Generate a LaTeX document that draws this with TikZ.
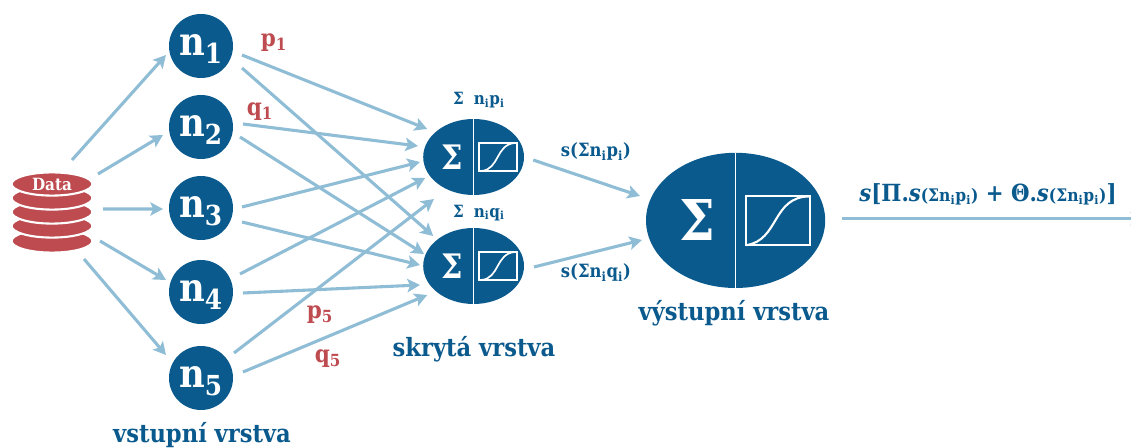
\documentclass[tikz,border=0pt]{standalone}
\usepackage{fontspec}
\setmainfont{DejaVu Serif Condensed}
\usepackage{xcolor}
\usetikzlibrary{calc,shapes.geometric,arrows.meta}
\definecolor{netblue}{HTML}{0B5A8E}
\definecolor{netred}{HTML}{BE4B50}
\definecolor{flowblue}{HTML}{8FBDD6}
\newcommand{\lowi}{\textsubscript{i}}
\tikzset{
  neuron/.style={circle, fill=netblue, text=white, minimum size=1.6cm, inner sep=0pt, text height=13pt, text depth=0pt, font=\fontsize{28}{28}\selectfont\bfseries},
  sumnode/.style={ellipse, fill=netblue, minimum width=2.52cm, minimum height=1.9cm, inner sep=0pt},
  outnode/.style={ellipse, fill=netblue, minimum width=4.48cm, minimum height=3.38cm, inner sep=0pt},
  disk/.style={ellipse, fill=netred, draw=white, line width=1.5pt, minimum width=2.02cm, minimum height=0.58cm, inner sep=0pt},
  flow/.style={->, draw=flowblue, line width=2.2pt},
  layername/.style={text=netblue, font=\fontsize{17.9}{17.9}\selectfont\bfseries},
  weight/.style={text=netred, font=\fontsize{17}{17}\selectfont\bfseries},
  formula/.style={text=netblue, font=\fontsize{13}{13}\selectfont\bfseries},
}
\begin{document}
\begin{tikzpicture}[>={Stealth[length=9pt,width=9.5pt,inset=2pt]}]
    \useasboundingbox (0,0) rectangle (28.275,11.2);
    \clip (0,0) rectangle (28.275,11.2);

    % -- Data stack --
    \foreach \y in {5.175,5.55,5.9,6.25} {
        \node[disk] at (1.3,\y) {};
    }
    \node[disk, font=\fontsize{12}{12}\selectfont\bfseries, text=white] (data) at (1.3,6.6) {Data};

    % -- Input layer --
    \node[neuron] (n1) at (5.025,10.05) {n\textsubscript{1}};
    \node[neuron] (n2) at (5.025,8.025) {n\textsubscript{2}};
    \node[neuron] (n3) at (5.025,6.0) {n\textsubscript{3}};
    \node[neuron] (n4) at (5.025,3.9) {n\textsubscript{4}};
    \node[neuron] (n5) at (5.025,1.75) {n\textsubscript{5}};

    % -- Hidden layer --
    \node[sumnode] (sum1) at (11.84,7.275) {};
    \node[sumnode] (sum2) at (11.84,4.55) {};
    \foreach \s in {sum1,sum2} {
        \draw[white, line width=0.8pt] (\s.north) -- (\s.south);
        \node[text=white, font=\fontsize{24}{24}\selectfont\bfseries] at ($(\s)+(-0.54,0)$) {Σ};
        \draw[white, line width=1.2pt] ($(\s)+(0.14,-0.35)$) rectangle ($(\s)+(1.08,0.35)$);
        \draw[white, line width=1.2pt] ($(\s)+(0.2,-0.35)$) .. controls ($(\s)+(0.65,-0.3)$) and ($(\s)+(0.55,0.3)$) .. ($(\s)+(1.02,0.35)$);
    }

    % -- Output layer --
    \node[outnode] (out) at (18.39,5.69) {};
    \draw[white, line width=1pt] (out.north) -- (out.south);
    \node[text=white, font=\fontsize{40}{40}\selectfont\bfseries] at ($(out)+(-0.96,0)$) {Σ};
    \draw[white, line width=1.5pt] ($(out)+(0.26,-0.62)$) rectangle ($(out)+(1.86,0.6)$);
    \draw[white, line width=1.5pt] ($(out)+(0.26,-0.62)$) .. controls ($(out)+(1.1,-0.5)$) and ($(out)+(0.9,0.6)$) .. ($(out)+(1.86,0.6)$);

    % -- Arrows --
    \foreach \a/\ax/\ay/\b/\bx/\by in {
        data/0.5/0.6/n1/-0.875/-0.225,
        data/1.15/0.25/n2/-0.95/-0.2,
        data/1.275/-0.625/n3/-0.95/-0.025,
        data/1.2/-1.425/n4/-0.875/0.3,
        data/0.8/-1.875/n5/-0.875/0.575,
        n1/1.025/-0.225/sum1/-1.16/0.7,
        n1/1.025/-0.55/sum2/-1.01/0.75,
        n2/1.05/0.075/sum1/-1.39/0.275,
        n2/0.975/-0.25/sum2/-1.24/0.3,
        n3/1.025/0.025/sum1/-1.34/-0.125,
        n3/1.025/-0.35/sum2/-1.34/0.025,
        n4/0.975/0.45/sum1/-1.21/-0.525,
        n4/1.05/-0.025/sum2/-1.34/-0.475,
        n5/0.825/0.625/sum1/-0.99/-1.05,
        n5/1.05/0.15/sum2/-1.16/-0.725,
        sum1/1.49/-0.075/out/-2.39/0.61,
        sum2/1.51/-0.025/out/-2.34/-0.49} {
        \draw[flow] ($(\a)+(\ax,\ay)$) -- ($(\b)+(\bx,\by)$);
    }
    % leaves the picture on the right
    \coordinate (exit) at (28.58,5.73);
    \draw[flow] ($(out)+(2.66,0.04)$) -- (exit);

    % -- Weights --
    \node[weight] (p1) at (6.85,10.13) {p\textsubscript{1}};
    \node[weight] (q1) at (6.5,8.4) {q\textsubscript{1}};
    \node[weight] (p5) at (8.0,3.33) {p\textsubscript{5}};
    \node[weight] (q5) at (8.2,2.23) {q\textsubscript{5}};

    % -- Formulas --
    \node[formula, font=\fontsize{12}{12}\selectfont\bfseries] (f1) at (11.97,8.7) {Σ\hspace{0.6em}n\lowi p\lowi};
    \node[formula, font=\fontsize{12}{12}\selectfont\bfseries] (f2) at (11.97,5.88) {Σ\hspace{0.6em}n\lowi q\lowi};
    \node[formula] (s1) at (14.9,7.4) {s(Σn\lowi p\lowi)};
    \node[formula] (s2) at (14.9,4.38) {s(Σn\lowi q\lowi)};
    \node[text=netblue, font=\fontsize{16.8}{16.8}\selectfont\bfseries] (total) at (24.7,6.35)
        {\textit{s}[Π.\textit{s}{\fontsize{12.3}{12.3}\selectfont(Σn\lowi p\lowi)} + Θ.\textit{s}{\fontsize{12.3}{12.3}\selectfont(Σn\lowi p\lowi)}]};

    % -- Layer names --
    \node[layername] (input) at (5.05,0.33) {vstupní vrstva};
    \node[layername] (hidden) at (11.85,2.46) {skrytá vrstva};
    \node[layername] (output) at (18.35,3.37) {výstupní vrstva};

\end{tikzpicture}
\end{document}
